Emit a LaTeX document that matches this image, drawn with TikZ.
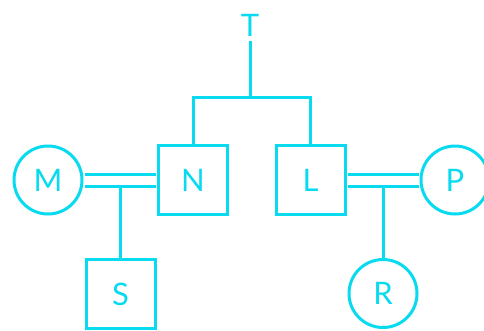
\documentclass[tikz,border=0pt]{standalone}
\usepackage{fontspec}
\setmainfont{Lato}
\usetikzlibrary{arrows}
\definecolor{tealine}{RGB}{8,218,240}

\begin{document}
\begin{tikzpicture}[x=1pt,y=-1pt,line width=3pt,color=tealine,font=\fontsize{31}{31}\selectfont]
  \tikzstyle{box}=[draw,rectangle,minimum size=69pt,inner sep=0pt]
  \tikzstyle{ring}=[draw,circle,minimum size=68pt,inner sep=0pt]
  \tikzstyle{bond}=[double=white,double distance=9pt,shorten >=1pt,shorten <=1pt]
  \useasboundingbox (0,0) rectangle (484,330);

  \node[box]  (N) at (193,180)                     {N};
  \node[box]  (L) [right of=N,node distance=117.5pt] {L};
  \node[ring] (M) [left of=N,node distance=145pt]    {M};
  \node[ring] (P) [right of=L,node distance=144.5pt] {P};
  \node[box]  (S) at (120.5,294)                   {S};
  \node[ring] (R) at (383,293.5)                   {R};
  \node       (T) at (250,25)                      {T};
  \coordinate (J) at (250,97);

  \draw (T) -- (J);
  \draw (N.north) |- (J) -| (L.north);
  \draw (S.north) -- (S.north |- M.center);
  \draw (R.north) -- (R.north |- P.center);

  \path (M) edge[bond] (N)
        (L) edge[bond] (P);
\end{tikzpicture}
\end{document}
